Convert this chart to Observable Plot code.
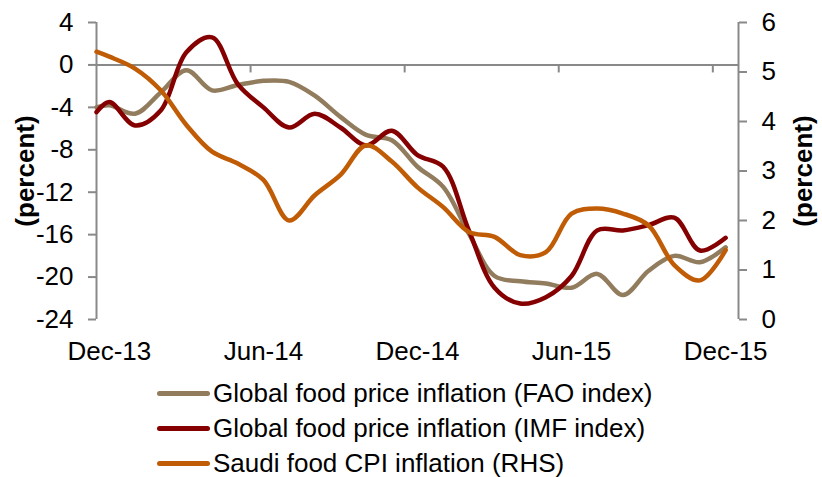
<!DOCTYPE html>
<html>
<head>
<meta charset="utf-8">
<script src="https://cdn.jsdelivr.net/npm/d3@7"></script>
<script src="https://cdn.jsdelivr.net/npm/@observablehq/plot@0.6"></script>
<style>
  html, body { margin: 0; padding: 0; background: #fff; }
  #wrap { position: relative; width: 822px; height: 477px; font-family: "Liberation Sans", Arial, sans-serif; }
  #legend { position: absolute; left: 157px; top: 376px; }
  .row { display: flex; align-items: center; height: 35px; font-size: 26px; color: #000; white-space: nowrap; }
  .sw { width: 53px; height: 5px; border-radius: 3px; margin-right: 3px; }
</style>
</head>
<body>
<div id="wrap"><div id="chart"></div><div id="legend"></div></div>
<script>
// month positions (0 = Dec-13, 24 = Dec-15)
const t = [-0.5, 0, 1, 2, 3, 4, 5, 6, 7, 8, 9, 10, 11, 12, 13, 14, 15, 16, 17, 18, 19, 20, 21, 22, 23, 24];
// Global food price inflation (FAO index), %, left axis
const fao = [-4.0, -3.8, -4.6, -2.6, -0.5, -2.4, -1.9, -1.5, -1.6, -2.9, -4.9, -6.6, -7.1, -9.6, -11.5, -15.9, -19.9, -20.4, -20.6, -21.0, -19.7, -21.7, -19.4, -18.0, -18.6, -17.2];
// Global food price inflation (IMF index), %, left axis
const imf = [-4.45, -3.5, -5.7, -4.3, 1.2, 2.6, -1.8, -4.0, -5.9, -4.6, -5.9, -7.6, -6.2, -8.5, -9.6, -15.6, -21.0, -22.5, -21.9, -19.9, -15.6, -15.6, -15.1, -14.4, -17.5, -16.3];
// Saudi food CPI inflation, %, right axis
const saudi = [5.41, 5.31, 5.07, 4.63, 3.93, 3.39, 3.15, 2.82, 2.0, 2.51, 2.92, 3.52, 3.19, 2.67, 2.27, 1.77, 1.67, 1.30, 1.36, 2.14, 2.24, 2.14, 1.90, 1.10, 0.79, 1.40];

const tickPos = [0, 6, 12, 18, 24];
const tickLabels = ["Dec-13", "Jun-14", "Dec-14", "Jun-15", "Dec-15"];
const leftTicks = [-24, -20, -16, -12, -8, -4, 0, 4];
const rightTicks = [0, 1, 2, 3, 4, 5, 6];
const seriesNames = ["Global food price inflation (FAO index)", "Global food price inflation (IMF index)", "Saudi food CPI inflation (RHS)"];
const colors = ["#927C5E", "#850000", "#C05C05"];

const L0 = -24, L1 = 4, R0 = 0, R1 = 6;
const toLeft = v => L0 + (v - R0) * (L1 - L0) / (R1 - R0);
const fromLeft = v => R0 + (v - L0) * (R1 - R0) / (L1 - L0);

const rows = [];
t.forEach((m, i) => {
  rows.push({m, v: fao[i], s: seriesNames[0]});
  rows.push({m, v: imf[i], s: seriesNames[1]});
  rows.push({m, v: toLeft(saudi[i]), s: seriesNames[2]});
});

const bounds = tickPos.slice(1).map(p => p - 0.5);
const axisColor = "#898989";
const fs = 26;

const chart = Plot.plot({
  width: 822,
  height: 370,
  marginLeft: 96,
  marginRight: 84,
  marginTop: 22,
  marginBottom: 51,
  style: {fontFamily: "Liberation Sans, Arial, sans-serif", fontSize: fs + "px", color: "#000", background: "#fff"},
  x: {domain: [-0.5, 24.5]},
  y: {domain: [L0, L1]},
  color: {domain: seriesNames, range: colors},
  marks: [
    Plot.ruleY([0], {stroke: axisColor, strokeWidth: 2}),
    Plot.ruleX(bounds, {y1: 0, y2: 0, insetBottom: -8, stroke: axisColor, strokeWidth: 2}),
    Plot.ruleX([-0.5], {y1: L0, y2: L1, stroke: axisColor, strokeWidth: 2}),
    Plot.ruleX([24.5], {y1: L0, y2: L1, stroke: axisColor, strokeWidth: 2}),
    Plot.axisY(leftTicks, {anchor: "left", tickSize: 8, tickPadding: 15, stroke: axisColor, strokeWidth: 2, fontSize: fs, label: null, tickFormat: d => String(d)}),
    Plot.axisY(rightTicks.map(toLeft), {anchor: "right", tickSize: 8, tickPadding: 15, stroke: axisColor, strokeWidth: 2, fontSize: fs, label: null, tickFormat: d => String(Math.round(fromLeft(d)))}),
    Plot.axisX(tickPos, {anchor: "bottom", tickSize: 0, tickPadding: 22, fontSize: fs, label: null, tickFormat: (d, i) => tickLabels[i]}),
    Plot.line(rows, {x: "m", y: "v", z: "s", stroke: "s", strokeWidth: 4.5, curve: "catmull-rom"}),
    Plot.text(["(percent)"], {frameAnchor: "left", textAnchor: "middle", dx: -71, rotate: -90, fontWeight: "bold", fontSize: fs}),
    Plot.text(["(percent)"], {frameAnchor: "right", textAnchor: "middle", dx: 65, rotate: -90, fontWeight: "bold", fontSize: fs})
  ]
});
document.getElementById("chart").appendChild(chart);

const legend = document.getElementById("legend");
seriesNames.forEach((n, i) => {
  const r = document.createElement("div");
  r.className = "row";
  const sw = document.createElement("span");
  sw.className = "sw";
  sw.style.background = colors[i];
  const tx = document.createElement("span");
  tx.textContent = n;
  r.appendChild(sw); r.appendChild(tx);
  legend.appendChild(r);
});
</script>
</body>
</html>
